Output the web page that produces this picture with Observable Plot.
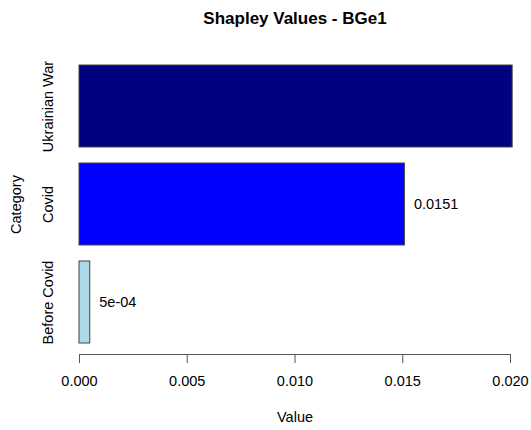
<!DOCTYPE html>
<html>
<head>
<meta charset="utf-8">
<script src="https://cdn.jsdelivr.net/npm/d3@7"></script>
<script src="https://cdn.jsdelivr.net/npm/@observablehq/plot@0.6"></script>
<style>
  html, body { margin: 0; padding: 0; background: #fff; }
</style>
</head>
<body>
<div id="chart"></div>
<script>
const title = "Shapley Values - BGe1";
const xLabel = "Value";
const yLabel = "Category";
const categories = ["Before Covid", "Covid", "Ukrainian War"];
const values = [0.0005, 0.0151, 0.0201];
const valueLabels = ["5e-04", "0.0151", ""];
const colors = ["#ADD8E6", "#0000FF", "#000080"];
const xTicks = [0, 0.005, 0.010, 0.015, 0.020];

const data = categories.map((c, i) => ({category: c, value: values[i], label: valueLabels[i], color: colors[i]}));

const font = "'Liberation Sans', Arial, Helvetica, sans-serif";

const chart = Plot.plot({
  width: 531,
  height: 430,
  marginLeft: 79,
  marginRight: 21,
  marginTop: 54,
  marginBottom: 76,
  style: {fontFamily: font, fontSize: "14.5px", background: "#fff", color: "#000", overflow: "visible"},
  x: {domain: [0, 0.02], axis: null},
  y: {domain: categories.slice().reverse(), range: [64.5, 342.5], paddingInner: 0.165, paddingOuter: 0, axis: null},
  color: {type: "identity"},
  marks: [
    Plot.barX(data, {x: "value", y: "category", fill: "color", stroke: "#444", strokeWidth: 1}),
    Plot.text(data, {x: "value", y: "category", text: "label", textAnchor: "start", dx: 9, fill: "#000"}),
    Plot.frame({anchor: "bottom", stroke: "#555"}),
    Plot.axisX({anchor: "bottom", ticks: xTicks, tickFormat: d3.format(".3f"), tickSize: 9, tickPadding: 12, stroke: "#555", fill: "#000", label: null}),
    Plot.text(categories, {y: d => d, text: d => d, frameAnchor: "left", rotate: -90, dx: -26.5, textAnchor: "middle", lineAnchor: "bottom", fill: "#000"}),
    Plot.text([yLabel], {frameAnchor: "left", rotate: -90, dx: -58.5, textAnchor: "middle", lineAnchor: "bottom", fill: "#000"}),
    Plot.text([xLabel], {frameAnchor: "bottom", dy: 67.7, textAnchor: "middle", lineAnchor: "bottom", fill: "#000"}),
    Plot.text([title], {frameAnchor: "top", dy: -31, textAnchor: "middle", lineAnchor: "bottom", fontWeight: "bold", fontSize: 17, fill: "#000"})
  ]
});
document.getElementById("chart").appendChild(chart);
</script>
</body>
</html>
